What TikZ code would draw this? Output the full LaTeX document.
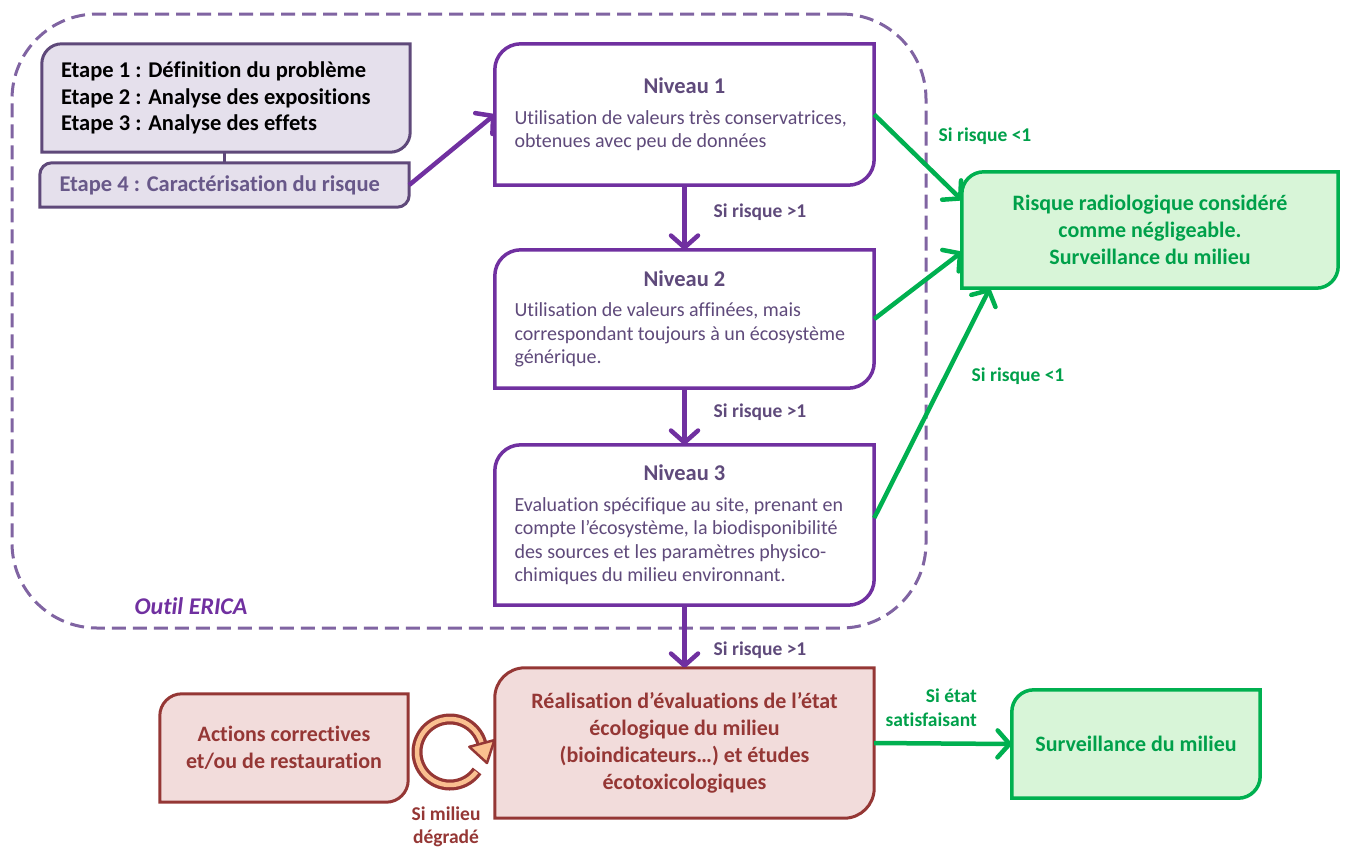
\documentclass[tikz,border=0pt]{standalone}
\usepackage{fontspec}
\setmainfont{Carlito}[Ligatures=NoCommon]
\usetikzlibrary{arrows.meta,backgrounds,calc}

\definecolor{purpleline}{HTML}{7030A0}
\definecolor{purpletext}{HTML}{5F4A7B}
\definecolor{stepfill}{HTML}{E5E0EC}
\definecolor{stepline}{HTML}{5F497A}
\definecolor{stepfour}{HTML}{685889}
\definecolor{frameline}{HTML}{8064A2}
\definecolor{greenline}{HTML}{00B050}
\definecolor{greentext}{HTML}{00A04A}
\definecolor{greenfill}{HTML}{D8F5D8}
\definecolor{redline}{HTML}{953735}
\definecolor{redfill}{HTML}{F2DCDB}
\definecolor{ringfill}{HTML}{FAC090}

% outline of a box with rounded top-left and bottom-right corners
\newcommand{\cutbox}[3]{%
  \path[#3] ([xshift=#2]#1.north west) -- (#1.north east)
    -- ([yshift=#2]#1.south east) arc[start angle=0,end angle=-90,radius=#2]
    -- (#1.south west)
    -- ([yshift=-#2]#1.north west) arc[start angle=180,end angle=90,radius=#2]
    -- cycle;}

\newcommand{\leveltitle}[1]{{\centering\bfseries\fontsize{22.5}{26}\selectfont #1\par}\vspace{7pt}}

\begin{document}
\begin{tikzpicture}[x=1pt,y=-1pt,
  stepbox/.style={inner sep=0pt, text=black, font=\bfseries\fontsize{22.5}{26.5}\selectfont},
  levelbox/.style={inner sep=0pt, minimum width=379pt, text=purpletext, font=\fontsize{20}{23.5}\selectfont},
  boldbox/.style={inner sep=0pt, align=center, font=\bfseries\fontsize{22}{27}\selectfont},
  plabel/.style={inner sep=0pt, text=purpletext, font=\bfseries\fontsize{19.5}{23}\selectfont},
  glabel/.style={inner sep=0pt, text=greentext, font=\bfseries\fontsize{19.5}{24}\selectfont},
  parrow/.style={draw=purpleline, line width=4.5pt, -{Straight Barb[length=12pt,width=27pt,round]}},
  garrow/.style={draw=greenline, line width=4.5pt, -{Straight Barb[length=12pt,width=27pt,round]}},
  frame/.style={draw=frameline, line width=3pt, dash pattern=on 14pt off 7pt, rounded corners=85pt,
    minimum width=914pt, minimum height=614pt, inner sep=0pt},
  stepshape/.style={fill=stepfill, draw=stepline, line width=3pt},
  levelshape/.style={fill=white, draw=purpleline, line width=3.5pt},
  greenshape/.style={fill=greenfill, draw=greenline, line width=3.5pt},
  redshape/.style={fill=redfill, draw=redline, line width=3pt}
]
\useasboundingbox (0,0) rectangle (1348,849);

% ---- steps of the assessment
\node[stepbox, minimum width=368pt, minimum height=108pt] (steps) at (226,98)
  {\begin{minipage}{330pt}\raggedright
   Etape 1 : Définition du problème\\
   Etape 2 : Analyse des expositions\\
   Etape 3 : Analyse des effets\end{minipage}};
\node[stepbox, text=stepfour, minimum width=369pt, minimum height=44pt] (step4) at (224.5,185)
  {\begin{minipage}{330pt}\raggedright Etape 4 : Caractérisation du risque\end{minipage}};

% ---- tiers of the tool
\node[levelbox, minimum height=141pt] (lvl1) at (684.5,114.5)
  {\begin{minipage}{340pt}\raggedright\leveltitle{Niveau 1}
   Utilisation de valeurs très conservatrices,\\
   obtenues avec peu de données\end{minipage}};
\node[levelbox, minimum height=138pt] (lvl2) at (684.5,319)
  {\begin{minipage}{340pt}\raggedright\leveltitle{Niveau 2}
   Utilisation de valeurs affinées, mais\\
   correspondant toujours à un écosystème\\
   générique.\end{minipage}};
\node[levelbox, minimum height=160pt] (lvl3) at (684.5,525)
  {\begin{minipage}{340pt}\raggedright\leveltitle{Niveau 3}
   Evaluation spécifique au site, prenant en\\
   compte l’écosystème, la biodisponibilité\\
   des sources et les paramètres physico-\\
   chimiques du milieu environnant.\end{minipage}};

% ---- outcomes
\node[boldbox, text=greentext, minimum width=376pt, minimum height=116pt] (green) at (1150,230)
  {Risque radiologique considéré\\ comme négligeable.\\ Surveillance du milieu};
\node[boldbox, text=redline, minimum width=379pt, minimum height=150pt] (real) at (684.5,743)
  {Réalisation d’évaluations de l’état\\ écologique du milieu\\ (bioindicateurs…) et études\\ écotoxicologiques};
\node[boldbox, text=redline, minimum width=248pt, minimum height=108pt] (actions) at (284,748)
  {Actions correctives\\ et/ou de restauration};
\node[boldbox, text=greentext, minimum width=248pt, minimum height=108pt] (surv) at (1136,744)
  {Surveillance du milieu};

% ---- labels
\node[plabel] (lab1) at (760,212) {Si risque >1};
\node[plabel] (lab2) at (760,412) {Si risque >1};
\node[plabel] (lab3) at (760,650) {Si risque >1};
\node[glabel] (lab4) at (985,136) {Si risque <1};
\node[glabel] (lab5) at (1018,376) {Si risque <1};
\node[glabel, align=right, anchor=east] (lab6) at (977,708) {Si état\\ satisfaisant};
\node[inner sep=0pt, text=redline, align=center, font=\bfseries\fontsize{19.5}{23}\selectfont] (lab7) at (446,827) {Si milieu\\ dégradé};
\node[inner sep=0pt, text=purpleline, font=\bfseries\itshape\fontsize{24}{28}\selectfont] (tool) at (191,606)
  {Outil ERICA};

% ---- shapes behind the texts
\begin{pgfonlayer}{background}
  \node[frame] (erica) at (469,321) {};
  \draw[stepline, line width=3pt] (step4.north) -- (step4.north |- steps.south);
  \cutbox{steps}{20pt}{stepshape}
  \cutbox{step4}{12pt}{stepshape}
  \cutbox{lvl1}{26pt}{levelshape}
  \cutbox{lvl2}{26pt}{levelshape}
  \cutbox{lvl3}{26pt}{levelshape}
  \cutbox{green}{22pt}{greenshape}
  \cutbox{real}{30pt}{redshape}
  \cutbox{actions}{22pt}{redshape}
  \cutbox{surv}{22pt}{greenshape}
\end{pgfonlayer}

% ---- connectors
\draw[parrow] (step4.east) -- (lvl1.west);
\draw[parrow] (lvl1.south) -- (lvl2.north);
\draw[parrow] (lvl2.south) -- (lvl3.north);
\draw[parrow] (lvl3.south) -- (real.north);
\draw[garrow] (lvl1.east) -- ([yshift=30pt]green.west);
\draw[garrow] (lvl2.east) -- ([yshift=-22pt]green.west);
\draw[garrow] ([yshift=7pt]lvl3.east) -- ([xshift=28pt]green.south west);
\draw[garrow] (real.east) -- (surv.west);

% ---- loop between corrective actions and assessment (clockwise ring arrow)
\coordinate (loop) at (450,752);
\draw[redline, line width=11pt] ($(loop)+(35:33)$) arc[start angle=35, end angle=347, radius=33];
\draw[ringfill, line width=4.5pt] ($(loop)+(37:33)$) arc[start angle=37, end angle=347, radius=33];
\filldraw[fill=ringfill, draw=redline, line width=2.5pt, line join=round]
  ($(loop)+(345:46)$) -- ($(loop)+(37,11)$) -- ($(loop)+(345:20)$) -- cycle;
\end{tikzpicture}
\end{document}
